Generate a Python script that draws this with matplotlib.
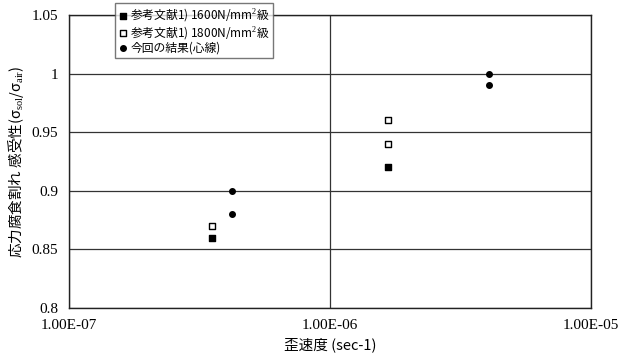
import numpy as np
import matplotlib.pyplot as plt
from matplotlib.ticker import FixedLocator, NullLocator

plt.rcParams['font.family'] = ['Liberation Serif', 'Noto Sans CJK JP', 'DejaVu Sans']
plt.rcParams['mathtext.fontset'] = 'custom'
plt.rcParams['mathtext.rm'] = 'Liberation Serif'
plt.rcParams['mathtext.it'] = 'Liberation Serif:italic'

# data
rate_1600 = [3.54e-7, 1.67e-6]
ratio_1600 = [0.86, 0.92]
rate_1800 = [3.54e-7, 1.67e-6, 1.67e-6]
ratio_1800 = [0.87, 0.94, 0.96]
rate_now = [4.2e-7, 4.2e-7, 4.08e-6, 4.08e-6]
ratio_now = [0.88, 0.90, 0.99, 1.00]

labels = ['参考文献1) 1600N/mm$^2$級',
          '参考文献1) 1800N/mm$^2$級',
          '今回の結果(心線)']
xticks = [1e-7, 1e-6, 1e-5]
xticklabels = ['1.00E-07', '1.00E-06', '1.00E-05']
yticks = [0.8, 0.85, 0.9, 0.95, 1.0, 1.05]
yticklabels = ['0.8', '0.85', '0.9', '0.95', '1', '1.05']

cjk = ['Noto Sans CJK JP', 'DejaVu Sans']

fig = plt.figure(figsize=(6.19, 3.54), dpi=100)
ax = fig.add_axes([69 / 619, 1 - 308 / 354, 522 / 619, 293 / 354])

ax.scatter(rate_1600, ratio_1600, marker='s', s=14, color='black', label=labels[0], zorder=3)
ax.scatter(rate_1800, ratio_1800, marker='s', s=14, facecolor='white', edgecolor='black',
           linewidth=1.0, label=labels[1], zorder=3)
ax.scatter(rate_now, ratio_now, marker='o', s=16, color='black', label=labels[2], zorder=3)

ax.set_xscale('log')
ax.set_xlim(1e-7, 1e-5)
ax.set_ylim(0.8, 1.05)
ax.xaxis.set_major_locator(FixedLocator(xticks))
ax.xaxis.set_minor_locator(NullLocator())
ax.set_xticklabels(xticklabels)
ax.set_yticks(yticks)
ax.set_yticklabels(yticklabels)
ax.tick_params(length=0, labelsize=11, pad=8)

ax.grid(True, color='#333333', linewidth=0.9)
ax.set_axisbelow(True)
for s in ax.spines.values():
    s.set_linewidth(1.0)
    s.set_color('#222222')

ax.set_xlabel('歪速度 (sec-1)', fontsize=10.5, family=cjk, labelpad=4)
ax.set_ylabel('応力腐食割れ 感受性(σ$_{\\mathrm{sol}}$/σ$_{\\mathrm{air}}$)', fontsize=10.5,
              family=cjk, labelpad=4)

leg = fig.legend(loc='upper left', bbox_to_anchor=(115 / 619, 1 - 3 / 354),
                 prop={'family': cjk, 'size': 8.5},
                 frameon=True, fancybox=False, shadow=False, handletextpad=0.2,
                 borderpad=0.3, labelspacing=0.05, handlelength=0.8, borderaxespad=0)
leg.get_frame().set_edgecolor('#555555')
leg.get_frame().set_linewidth(1.0)

fig.savefig('out.png', dpi=100)
